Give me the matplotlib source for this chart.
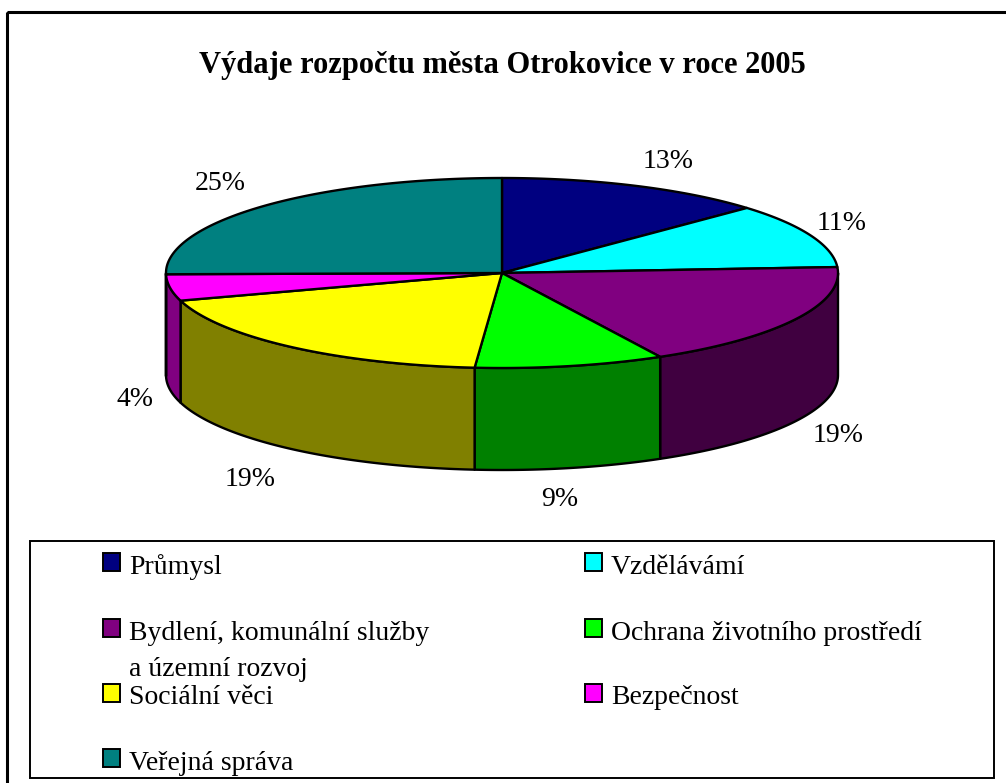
import matplotlib
matplotlib.use('Agg')
import matplotlib.pyplot as plt
from matplotlib.patches import Polygon, Rectangle
import numpy as np

title = 'Výdaje rozpočtu města Otrokovice v roce 2005'
categories = ['Průmysl', 'Vzdělávámí', 'Bydlení, komunální služby\na územní rozvoj',
              'Ochrana životního prostředí', 'Sociální věci', 'Bezpečnost', 'Veřejná správa']
# slice sizes estimated from the drawn angles, printed labels kept as shown
values = [13.0, 11.0, 18.2, 9.1, 19.0, 4.49, 25.21]
percent_labels = ['13%', '11%', '19%', '9%', '19%', '4%', '25%']
top_colors = ['#000080', '#00FFFF', '#800080', '#00FF00', '#FFFF00', '#FF00FF', '#008080']
side_colors = ['#000040', '#008080', '#400040', '#008000', '#808000', '#800080', '#004040']

label_pos = [(668, 161), (842, 224), (838, 435), (560, 500), (250, 480), (135, 399), (220, 183)]
legend_swatch_y = [553, 553, 619, 619, 684, 684, 749]
legend_baseline = [574, 574, 640, 640, 704, 704, 770]
legend_x = [103, 585, 103, 585, 103, 585, 103]

cx, cy, rx, ry, depth = 502, 273, 336, 95, 102


def rim(theta):
    return cx + rx * np.sin(theta), cy - ry * np.cos(theta)


def main():
    plt.rcParams['font.family'] = ['Liberation Serif', 'DejaVu Serif']
    fig = plt.figure(figsize=(10.06, 7.83), dpi=100)
    ax = fig.add_axes([0, 0, 1, 1])
    ax.set_xlim(0, 1006)
    ax.set_ylim(783, 0)
    ax.axis('off')

    lw = 1.7
    # outer frame runs off the right and bottom of the image
    ax.add_patch(Rectangle((7, 12), 1020, 790, fill=False, ec='black', lw=2.2))
    ax.text(502, 65, title, ha='center', va='center', fontsize=22, fontweight='bold')

    edges = np.radians(np.cumsum([0] + values) * 3.6)

    # side walls first, only the front half of the pie is visible
    for i in range(len(values)):
        a = max(edges[i], np.pi / 2)
        b = min(edges[i + 1], 3 * np.pi / 2)
        if a >= b:
            continue
        t = np.linspace(a, b, 80)
        x, y = rim(t)
        pts = np.r_[np.c_[x, y], np.c_[x[::-1], y[::-1] + depth]]
        ax.add_patch(Polygon(pts, fc=side_colors[i], ec='black', lw=lw, joinstyle='round'))

    for i in range(len(values)):
        t = np.linspace(edges[i], edges[i + 1], 120)
        x, y = rim(t)
        pts = np.r_[[[cx, cy]], np.c_[x, y]]
        ax.add_patch(Polygon(pts, fc=top_colors[i], ec='black', lw=lw, joinstyle='round'))

    for txt, (px, py) in zip(percent_labels, label_pos):
        ax.text(px, py, txt, ha='center', va='center', fontsize=20)

    # legend box
    ax.add_patch(Rectangle((30, 541), 964, 237, fc='white', ec='black', lw=1.4))
    for i, name in enumerate(categories):
        ax.add_patch(Rectangle((legend_x[i], legend_swatch_y[i]), 17, 18,
                               fc=top_colors[i], ec='black', lw=1.4))
        for j, line in enumerate(name.split('\n')):
            ax.text(legend_x[i] + 26, legend_baseline[i] + 36 * j, line,
                    ha='left', va='baseline', fontsize=20)

    fig.savefig('out.png', dpi=100)


if __name__ == '__main__':
    main()
